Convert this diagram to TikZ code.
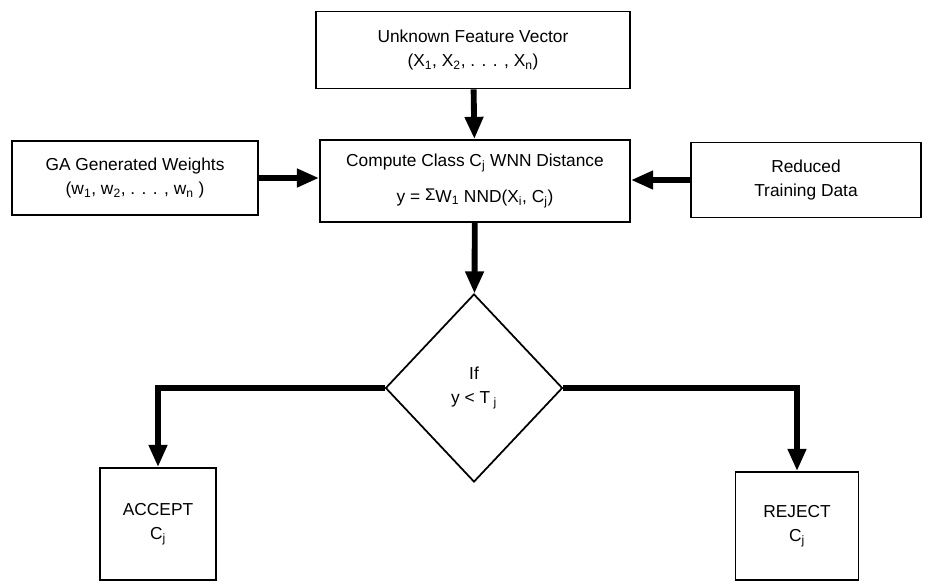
\documentclass[tikz,border=0pt]{standalone}
\usepackage{fontspec}
\setmainfont{Liberation Sans}
\usetikzlibrary{shapes.geometric, arrows.meta}

\begin{document}
\begin{tikzpicture}[
    x=0.03cm, y=-0.03cm,
    font=\fontsize{14.8}{21}\selectfont,
    block/.style={rectangle, draw, line width=1.5pt, align=center, inner sep=0pt},
    decision/.style={diamond, draw, line width=1.5pt, align=center, inner sep=0pt, minimum width=5.31cm, minimum height=5.64cm},
    arrow/.style={line width=5pt, -{Triangle[width=15pt, length=19pt]}}
]
\useasboundingbox (0,0) rectangle (927,582);
\clip (0,0) rectangle (927,582);

% Input boxes
\node[block, minimum width=9.42cm, minimum height=2.31cm] (input) at (473,50) {Unknown Feature Vector\\(X\textsubscript{1}, X\textsubscript{2}, . . . , X\textsubscript{n})};
\node[block, minimum width=9.3cm, minimum height=2.46cm] (wnn) at (475,181) {Compute Class C\textsubscript{j} WNN Distance\\[9pt]y = \raisebox{1pt}{\Large Σ}W\textsubscript{1} NND(X\textsubscript{i}, C\textsubscript{j})};
\node[block, minimum width=7.38cm, minimum height=2.22cm] (weights) at (135,178) {GA Generated Weights\\(w\textsubscript{1}, w\textsubscript{2}, . . . , w\textsubscript{n} )};
\node[block, minimum width=6.9cm, minimum height=2.25cm] (training) at (806,180) {Reduced\\Training Data};

% Decision and outcomes
\node[decision] (test) at (474,388) {If\\y {<} T\textsubscript{ j}};
\node[block, minimum width=3.48cm, minimum height=3.36cm] (accept) at (158,524) {ACCEPT\\C\textsubscript{j}};
\node[block, minimum width=3.69cm, minimum height=3.24cm] (reject) at (797,526) {REJECT\\C\textsubscript{j}};

% Arrows
\draw[arrow] (input) -- (wnn);
\draw[arrow] (weights.east) -- (weights.east -| wnn.west);
\draw[arrow] (training.west) -- (training.west -| wnn.east);
\draw[arrow] (wnn) -- (test);
\draw[arrow] (test.west) -| (accept.north);
\draw[arrow] (test.east) -| (reject.north);

\end{tikzpicture}
\end{document}
